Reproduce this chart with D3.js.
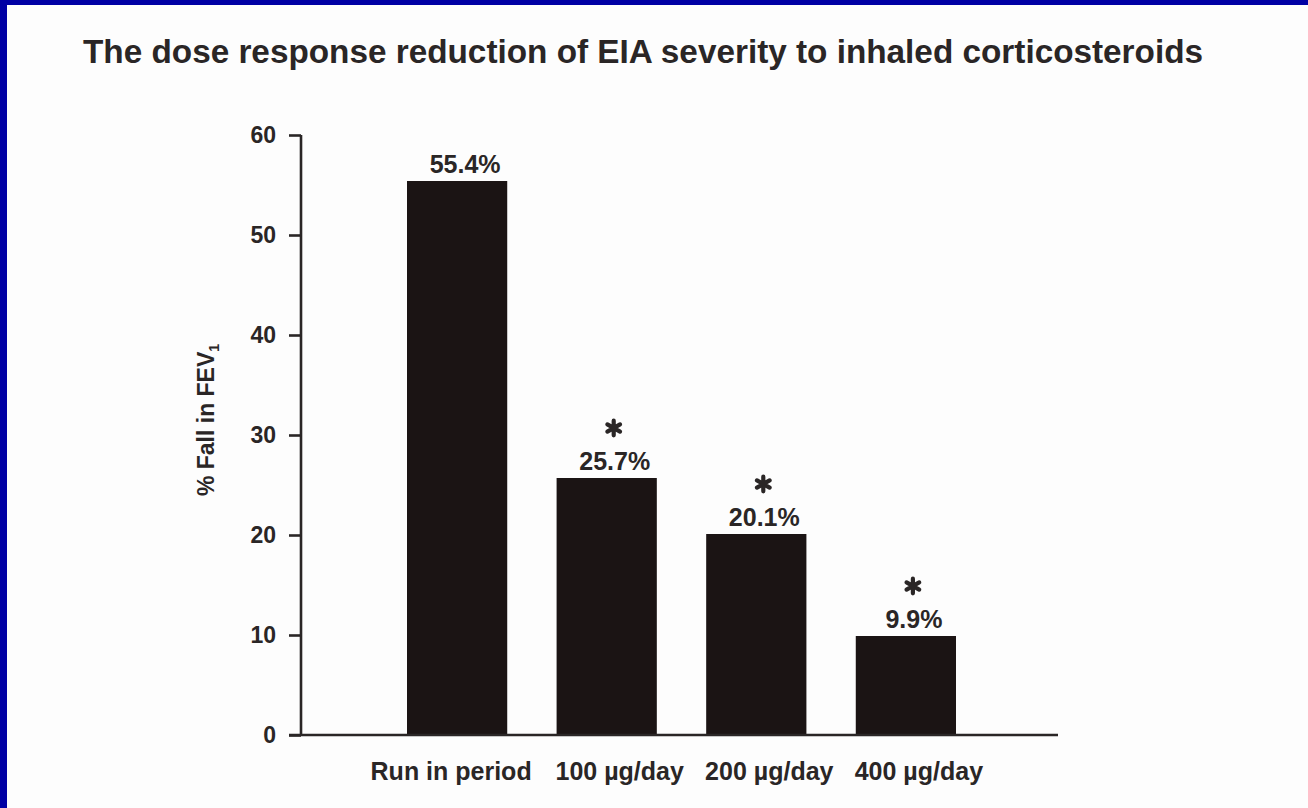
<!DOCTYPE html>
<html>
<head>
<meta charset="utf-8">
<script src="https://cdn.jsdelivr.net/npm/d3@7"></script>
<style>
  html, body { margin: 0; padding: 0; background: #fdfdfd; }
  svg { display: block; }
</style>
</head>
<body>
<svg id="chart" width="1308" height="808"></svg>
<script>
// ---- data ----
const titleText = "The dose response reduction of EIA severity to inhaled corticosteroids";
const categories = ["Run in period", "100 \u00b5g/day", "200 \u00b5g/day", "400 \u00b5g/day"];
const values = [55.4, 25.7, 20.1, 9.9];
const valueLabels = ["55.4%", "25.7%", "20.1%", "9.9%"];
const significant = [false, true, true, true];
const yTicks = [0, 10, 20, 30, 40, 50, 60];

// ---- layout ----
const W = 1308, H = 808;
const svg = d3.select("#chart");
const font = "'Liberation Sans', Arial, Helvetica, sans-serif";
const ink = "#2a2626";
const barColor = "#1b1414";

// background + blue frame (top and left)
svg.append("rect").attr("x", 0).attr("y", 0).attr("width", W).attr("height", H).attr("fill", "#0000a4");
svg.append("rect").attr("x", 7).attr("y", 5).attr("width", W - 7).attr("height", H - 5).attr("fill", "#fdfdfd");

const y = d3.scaleLinear().domain([0, 60]).range([735, 135]);
const x = d3.scaleBand().domain(categories).range([407, 956]).paddingInner(0.33).paddingOuter(0);
const axisX = 301;

// title
svg.append("text")
  .attr("x", 83).attr("y", 63)
  .attr("font-family", font).attr("font-weight", "bold").attr("font-size", 33.3)
  .attr("fill", ink)
  .text(titleText);

// y axis
const yAxis = d3.axisLeft(y).tickValues(yTicks).tickSize(12).tickPadding(13).tickFormat(d3.format("d"));
const gy = svg.append("g").attr("transform", `translate(${axisX},0)`).call(yAxis);
gy.select(".domain").remove();
gy.append("line").attr("x1", 0).attr("x2", 0).attr("y1", y(60)).attr("y2", y(0))
  .attr("stroke", ink).attr("stroke-width", 2.6);
gy.selectAll(".tick line").attr("stroke", ink).attr("stroke-width", 2.6);
gy.selectAll(".tick text")
  .attr("font-family", font).attr("font-weight", "bold").attr("font-size", 23)
  .attr("fill", ink);

// y axis label
const yl = svg.append("text")
  .attr("transform", `translate(214,420) rotate(-90)`)
  .attr("text-anchor", "middle")
  .attr("font-family", font).attr("font-weight", "bold").attr("font-size", 23)
  .attr("fill", ink);
yl.append("tspan").text("% Fall in FEV");
yl.append("tspan").attr("font-size", 14).attr("dy", 5).text("1");

// bars
svg.append("g").selectAll("rect").data(values).join("rect")
  .attr("x", (d, i) => x(categories[i]))
  .attr("width", x.bandwidth())
  .attr("y", d => y(d))
  .attr("height", d => y(0) - y(d))
  .attr("fill", barColor);

// x axis baseline
svg.append("line").attr("x1", axisX - 12).attr("x2", 1058).attr("y1", y(0)).attr("y2", y(0))
  .attr("stroke", ink).attr("stroke-width", 2.6);

// x category labels
const xAxis = d3.axisBottom(x).tickSize(0).tickPadding(27);
const gx = svg.append("g").attr("transform", `translate(0,${y(0)})`).call(xAxis);
gx.select(".domain").remove();
gx.selectAll(".tick text")
  .attr("font-family", font).attr("font-weight", "bold").attr("font-size", 25)
  .attr("fill", ink).attr("dx", (d, i) => i === 0 ? -6 : 13);

// value labels
svg.append("g").selectAll("text").data(values).join("text")
  .attr("x", (d, i) => x(categories[i]) + x.bandwidth() / 2 + 8)
  .attr("y", d => y(d) - 8)
  .attr("text-anchor", "middle")
  .attr("font-family", font).attr("font-weight", "bold").attr("font-size", 25)
  .attr("fill", ink)
  .text((d, i) => valueLabels[i]);

// significance asterisks (drawn as symbols)
const starType = d3.symbolAsterisk || d3.symbolCross;
svg.append("g").selectAll("path").data(values.map((v, i) => ({v, i})).filter(d => significant[d.i])).join("path")
  .attr("transform", d => `translate(${x(categories[d.i]) + x.bandwidth() / 2 + 7},${y(d.v) - 50})`)
  .attr("d", d3.symbol(starType, 150))
  .attr("fill", "none")
  .attr("stroke", ink)
  .attr("stroke-width", 4.2)
  .attr("stroke-linecap", "round");
</script>
</body>
</html>
